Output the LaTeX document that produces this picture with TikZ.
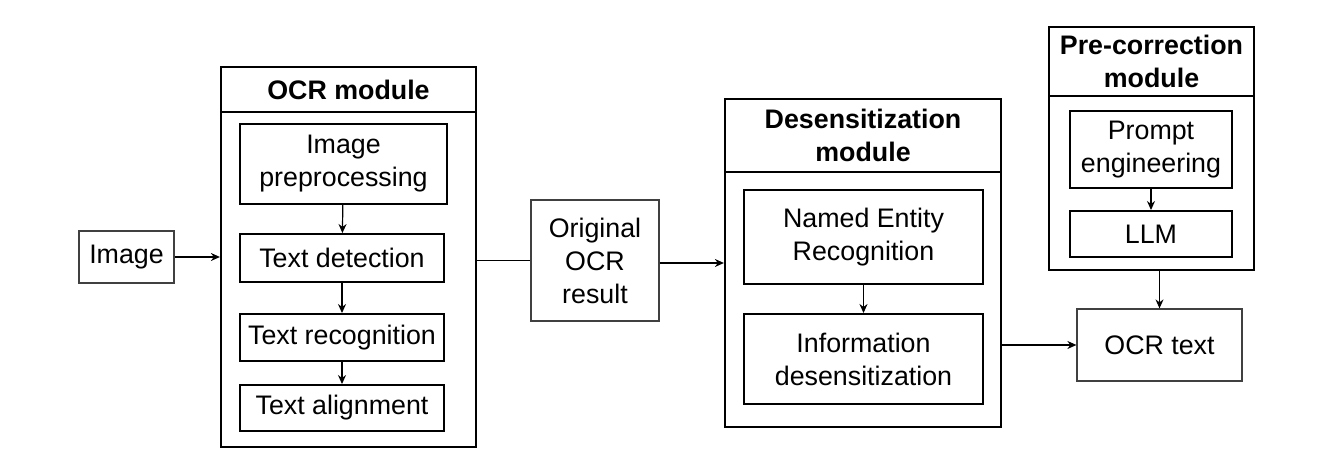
\documentclass[tikz,border=0pt]{standalone}
\usepackage{fontspec}
\setmainfont{Liberation Sans}
\usepackage{tikz}
\usetikzlibrary{arrows.meta}
\tikzstyle{nodoMod} = [rectangle, draw=black, line width=1.1pt, inner sep=0pt]
\tikzstyle{nodoTit} = [rectangle, draw=black, line width=1.1pt, align=center, font=\fontsize{13.4}{16.5}\selectfont\bfseries]
\tikzstyle{nodoPaso} = [rectangle, draw=black, line width=0.95pt, align=center, inner sep=0pt, font=\fontsize{13.4}{16.5}\selectfont]
\tikzstyle{nodoIO} = [rectangle, draw=black!75, line width=0.6pt, align=center, inner sep=0pt, font=\fontsize{13.4}{16.5}\selectfont]
\tikzstyle{flecha} = [-{Stealth[length=4.5pt,width=4pt]}, line width=0.6pt]

\begin{document}
\begin{tikzpicture}[x=0.5pt, y=-0.5pt]
    \useasboundingbox (0,0) rectangle (1329,474);

    \node (Img) [nodoIO, minimum width=47.5pt, minimum height=26pt] at (126.5,257) {Image};

    \node (OCRmod) [nodoMod, minimum width=127.5pt, minimum height=190pt] at (348.5,257) {};
    \node (OCRtit) [nodoTit, minimum width=127.5pt, minimum height=22.5pt, anchor=north] at (OCRmod.north) {OCR module};
    \node (Pre) [nodoPaso, minimum width=103.5pt, minimum height=40pt] at (343.5,164) {Image\\preprocessing};
    \node (Det) [nodoPaso, minimum width=102pt, minimum height=24pt] at (342,258) {Text detection};
    \node (Rec) [nodoPaso, minimum width=102pt, minimum height=23.5pt] at (342,337.5) {Text recognition};
    \node (Ali) [nodoPaso, minimum width=102pt, minimum height=23pt] at (342,408) {Text alignment};

    \node (Orig) [nodoIO, minimum width=64pt, minimum height=60.5pt] at (595,260.5) {Original\\OCR\\result};

    \node (DesMod) [nodoMod, minimum width=138pt, minimum height=164pt] at (863,263) {};
    \node (DesTit) [nodoTit, minimum width=138pt, minimum height=36.5pt, anchor=north] at (DesMod.north) {Desensitization\\module};
    \node (NER) [nodoPaso, minimum width=119.5pt, minimum height=47pt] at (863.5,237) {Named Entity\\Recognition};
    \node (Inf) [nodoPaso, minimum width=119.5pt, minimum height=45pt] at (863.5,359) {Information\\desensitization};

    \node (PreMod) [nodoMod, minimum width=102.5pt, minimum height=121.5pt] at (1151.5,148.5) {};
    \node (PreTit) [nodoTit, minimum width=102.5pt, minimum height=34.5pt, anchor=north] at (PreMod.north) {Pre-correction\\module};
    \node (Prompt) [nodoPaso, minimum width=81pt, minimum height=38.5pt] at (1151,149.5) {Prompt\\engineering};
    \node (LLM) [nodoPaso, minimum width=81pt, minimum height=23pt] at (1151,234) {LLM};

    \node (Txt) [nodoIO, minimum width=82.5pt, minimum height=36pt] at (1159.5,345) {OCR text};

    \draw [flecha] (Img) -- (OCRmod.west |- Img.east);
    \draw [flecha] (Pre) -- (Det);
    \draw [flecha] (Det) -- (Rec);
    \draw [flecha] (Rec) -- (Ali);
    \draw [line width=0.9pt] (OCRmod.east |- Orig.west) -- (Orig.west);
    \draw [flecha] (Orig.east |- DesMod.west) -- (DesMod.west);
    \draw [flecha] (NER) -- (Inf);
    \draw [flecha] (Prompt) -- (LLM);
    \draw [flecha] (DesMod.east |- Txt.west) -- (Txt.west);
    \draw [flecha] (Txt.north |- PreMod.south) -- (Txt.north);
\end{tikzpicture}
\end{document}
